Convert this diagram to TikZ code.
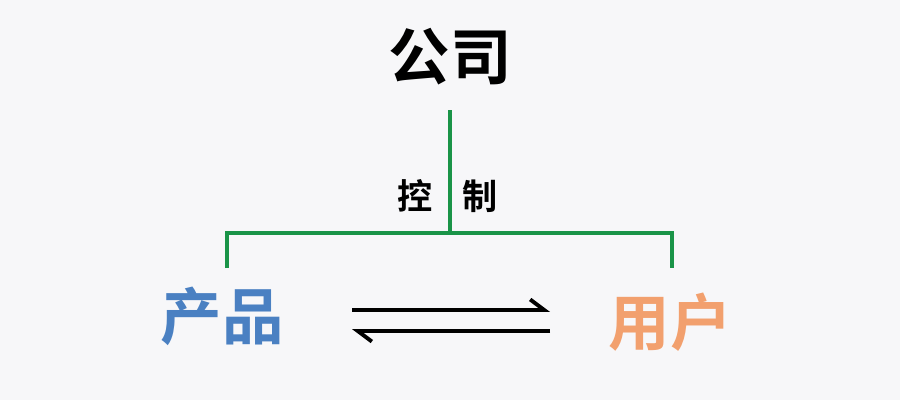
\documentclass[tikz,border=0pt]{standalone}
\usepackage{fontspec}
\usepackage{xcolor}
\usetikzlibrary{arrows.meta}
\newfontfamily\cjk{Noto Sans CJK SC Bold}
\definecolor{bg}{HTML}{F7F7F9}
\definecolor{linegreen}{HTML}{1A9448}
\definecolor{prodblue}{HTML}{4A80C2}
\definecolor{userorange}{HTML}{F2A06E}

\begin{document}
\begin{tikzpicture}[x=0.02cm, y=-0.02cm,
   big/.style={font=\cjk\fontsize{35}{35}\selectfont, inner sep=0pt},
   small/.style={font=\cjk\fontsize{20}{20}\selectfont, inner sep=0pt},
   bracket/.style={draw=linegreen, line width=2.8pt},
   flow/.style={line width=2.2pt, -{Straight Barb[harpoon, length=8pt, width=12pt, line width=2.2pt]}}]
   \fill[bg] (0,0) rectangle (900,400);
   \node[big] (gs) at (450,57) {公司};
   \node[big, text=prodblue] (cp) at (222,316) {产品};
   \node[big, text=userorange] (yh) at (670,322) {用户};
   \node[small] (kz) at (415,196) {控};
   \node[small] (zh) at (480,196) {制};

   \coordinate (top) at (450,110);
   \coordinate (mid) at (450,233);
   \coordinate (lend) at (227,268);
   \coordinate (rend) at (672,268);
   \draw[bracket] (top) -- (mid);
   \draw[bracket] (lend) |- (mid) -| (rend);

   \coordinate (a1) at (352,310);
   \coordinate (a2) at (550,310);
   \coordinate (b1) at (550,331);
   \coordinate (b2) at (352,331);
   \draw[flow] (a1) -- (a2);
   \draw[flow] (b1) -- (b2);
\end{tikzpicture}
\end{document}
